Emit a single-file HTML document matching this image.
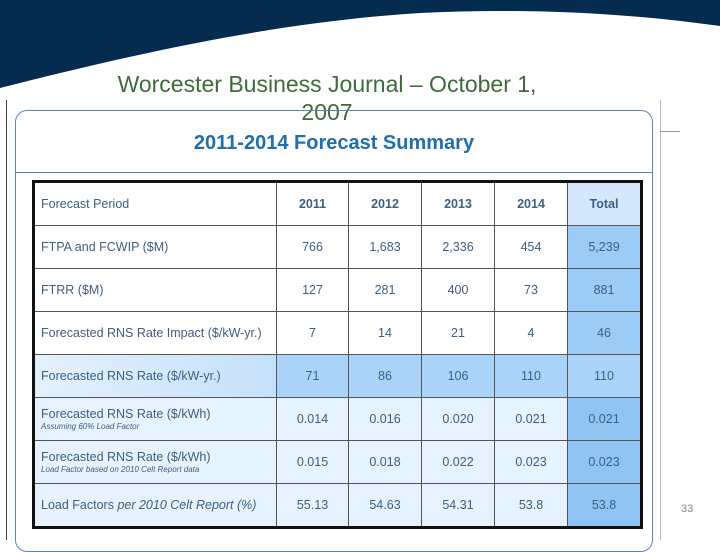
<!DOCTYPE html>
<html><head><meta charset="utf-8"><style>
body{margin:0;width:720px;height:540px;overflow:hidden;background:#fff;font-family:"Liberation Sans",sans-serif;position:relative}
.a{position:absolute}
table{position:absolute;left:32px;top:180px;width:608px;border-collapse:collapse;border:3px solid #111;table-layout:fixed}
tr{height:42px}
td{border:1px solid #555;color:#3d5f80;font-size:12.5px;text-align:center;padding:0;height:42px;line-height:14px;overflow:hidden}
td.l{text-align:left;padding-left:6px}
td small{display:block;font-size:8px;font-style:italic;margin-top:1px;line-height:10px}
tr.b td{background:#e6f2fd}
tr.m td{background:#a9d3f8}
tr.m td.l{background:linear-gradient(90deg,#e4f1fd,#c4e0fa)}
td.t{background:#9ccbf5}
tr.b td.t{background:#8fc4f3}
</style></head><body>
<svg class="a" style="left:0;top:0" width="720" height="100">
<path d="M0 0H720V26C620 12 520 8 420 13C280 22 150 50 0 88Z" fill="#052b4f"/>
</svg>
<div class="a" style="left:77px;top:70px;width:500px;text-align:center;color:#3e6b3a;font-size:23px;line-height:28px">Worcester Business Journal – October 1,<br>2007</div>
<div class="a" style="left:6px;top:100px;width:1px;height:440px;background:#444"></div>
<div class="a" style="left:660px;top:100px;width:1px;height:440px;background:#bbb"></div>
<div class="a" style="left:660px;top:131px;width:20px;height:1px;background:#999"></div>
<div class="a" style="left:15px;top:110px;width:636px;height:440px;border:1px solid #5a86b8;border-radius:12px"></div>
<div class="a" style="left:16px;top:172px;width:636px;height:1px;background:#5a86b8"></div>
<div class="a" style="left:16px;top:132px;width:636px;text-align:center;color:#1f6eae;font-weight:bold;font-size:20px">2011-2014 Forecast Summary</div>
<table>
<colgroup><col style="width:243px"><col style="width:72px"><col style="width:73px"><col style="width:73px"><col style="width:73px"><col style="width:74px"></colgroup>
<tr><td class="l">Forecast Period</td><td><b>2011</b></td><td><b>2012</b></td><td><b>2013</b></td><td><b>2014</b></td><td style="background:#d5e8fb"><b>Total</b></td></tr>
<tr><td class="l">FTPA and FCWIP ($M)</td><td>766</td><td>1,683</td><td>2,336</td><td>454</td><td class="t">5,239</td></tr>
<tr><td class="l">FTRR ($M)</td><td>127</td><td>281</td><td>400</td><td>73</td><td class="t">881</td></tr>
<tr><td class="l">Forecasted RNS Rate Impact ($/kW-yr.)</td><td>7</td><td>14</td><td>21</td><td>4</td><td class="t">46</td></tr>
<tr class="m"><td class="l">Forecasted RNS Rate ($/kW-yr.)</td><td>71</td><td>86</td><td>106</td><td>110</td><td class="t">110</td></tr>
<tr class="b"><td class="l">Forecasted RNS Rate ($/kWh)<small>Assuming 60% Load Factor</small></td><td>0.014</td><td>0.016</td><td>0.020</td><td>0.021</td><td class="t">0.021</td></tr>
<tr class="b"><td class="l">Forecasted RNS Rate ($/kWh)<small>Load Factor based on 2010 Celt Report data</small></td><td>0.015</td><td>0.018</td><td>0.022</td><td>0.023</td><td class="t">0.023</td></tr>
<tr class="b"><td class="l">Load Factors <i>per 2010 Celt Report (%)</i></td><td>55.13</td><td>54.63</td><td>54.31</td><td>53.8</td><td class="t">53.8</td></tr>
</table>
<div class="a" style="left:681px;top:503px;font-size:11px;color:#888">33</div>
</body></html>
